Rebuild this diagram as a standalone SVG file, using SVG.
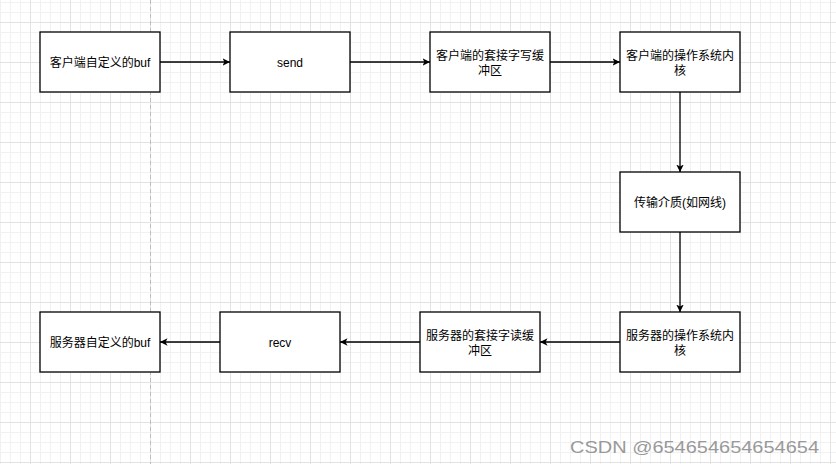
<svg xmlns="http://www.w3.org/2000/svg" width="836" height="464" viewBox="0 0 836 464">
<style>
.box{fill:#ffffff;stroke:#000000;stroke-width:1.3}
.lbl{font-family:"Liberation Sans","Noto Sans CJK SC",sans-serif;font-size:12px;fill:#000000;text-anchor:middle}
.edge{stroke:#000000;stroke-width:1.3;fill:none;marker-end:url(#arr)}
</style>
<defs>
<pattern id="minor" width="10" height="10" patternUnits="userSpaceOnUse" x="0" y="2">
<path d="M0.5,0 V10 M0,0.5 H10" stroke="#f1f1f1" stroke-width="1" fill="none"/>
</pattern>
<pattern id="major" width="40" height="40" patternUnits="userSpaceOnUse" x="30" y="22">
<path d="M0.5,0 V40 M0,0.5 H40" stroke="#e2e2e2" stroke-width="1" fill="none"/>
</pattern>
<marker id="arr" markerUnits="userSpaceOnUse" markerWidth="8" markerHeight="8" refX="7.5" refY="3.75" orient="auto" viewBox="0 0 8 7.5">
<path d="M0,0 L7.5,3.75 L0,7.5 L1.9,3.75 z" fill="#000000"/>
</marker>
</defs>
<rect width="836" height="464" fill="#ffffff"/>
<rect width="836" height="464" fill="url(#minor)"/>
<rect width="836" height="464" fill="url(#major)"/>
<line x1="150.5" y1="0" x2="150.5" y2="464" stroke="#bdbdbd" stroke-width="1" stroke-dasharray="4,3"/>
<g id="connectors">
<line class="edge" x1="160" y1="62" x2="230" y2="62"/>
<line class="edge" x1="350" y1="62" x2="430" y2="62"/>
<line class="edge" x1="550" y1="62" x2="620" y2="62"/>
<line class="edge" x1="680" y1="92" x2="680" y2="172"/>
<line class="edge" x1="680" y1="232" x2="680" y2="312"/>
<line class="edge" x1="620" y1="342" x2="540" y2="342"/>
<line class="edge" x1="420" y1="342" x2="340" y2="342"/>
<line class="edge" x1="220" y1="342" x2="160" y2="342"/>
</g>
<g id="client-buf"><rect class="box" x="40" y="32" width="120" height="60"/><text class="lbl" x="100" y="66.5">客户端自定义的buf</text></g>
<g id="send"><rect class="box" x="230" y="32" width="120" height="60"/><text class="lbl" x="290" y="66.5">send</text></g>
<g id="client-sock"><rect class="box" x="430" y="32" width="120" height="60"/><text class="lbl" x="490" y="60">客户端的套接字写缓</text><text class="lbl" x="490" y="74.5">冲区</text></g>
<g id="client-kernel"><rect class="box" x="620" y="32" width="120" height="60"/><text class="lbl" x="680" y="60">客户端的操作系统内</text><text class="lbl" x="680" y="74.5">核</text></g>
<g id="medium"><rect class="box" x="620" y="172" width="120" height="60"/><text class="lbl" x="680" y="206.5">传输介质(如网线)</text></g>
<g id="server-kernel"><rect class="box" x="620" y="312" width="120" height="60"/><text class="lbl" x="680" y="340">服务器的操作系统内</text><text class="lbl" x="680" y="354.5">核</text></g>
<g id="server-sock"><rect class="box" x="420" y="312" width="120" height="60"/><text class="lbl" x="480" y="340">服务器的套接字读缓</text><text class="lbl" x="480" y="354.5">冲区</text></g>
<g id="recv"><rect class="box" x="220" y="312" width="120" height="60"/><text class="lbl" x="280" y="346.5">recv</text></g>
<g id="server-buf"><rect class="box" x="40" y="312" width="120" height="60"/><text class="lbl" x="100" y="346.5">服务器自定义的buf</text></g>
<text x="570" y="453" font-family="Liberation Sans, sans-serif" font-size="17" fill="#999999" textLength="249" lengthAdjust="spacingAndGlyphs">CSDN @654654654654654</text>
</svg>
